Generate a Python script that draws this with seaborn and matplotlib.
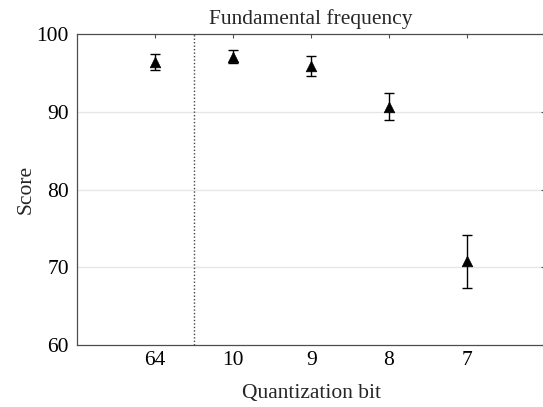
import matplotlib
matplotlib.use('Agg')
import matplotlib.pyplot as plt
import seaborn as sns
import pandas as pd

# valores
bits = ['64', '10', '9', '8', '7']
score = [96.4, 97.1, 95.9, 90.65, 70.8]
erro = [1.05, 0.85, 1.3, 1.7, 3.4]

sns.set_theme(style='white')
plt.rcParams['font.family'] = ['Liberation Serif', 'DejaVu Serif']
plt.rcParams['mathtext.fontset'] = 'stix'

df = pd.DataFrame({'bit': bits, 'score': score, 'erro': erro})
df['pos'] = range(1, len(bits) + 1)

fig = plt.figure(figsize=(5.43, 4.07), dpi=100)
ax = fig.add_axes([0.1425, 0.152, 0.861, 0.7645])

# grade horizontal
for y in [70, 80, 90]:
    ax.axhline(y, color='#e6e6e6', lw=1, zorder=0)

# linha pontilhada separando 64 dos outros
ax.axvline(1.5, color='#444444', lw=1, ls=(0, (1, 1.5)), zorder=1)

ax.errorbar(df['pos'], df['score'], yerr=df['erro'], fmt='none',
            ecolor='black', elinewidth=1, capsize=3.5, capthick=1, zorder=2)
sns.scatterplot(data=df, x='pos', y='score', marker='^', s=58,
                color='black', edgecolor='black', linewidth=0.5, ax=ax, zorder=3)

ax.set_xlim(0, 6)
ax.set_ylim(60, 100)
ax.set_xticks(df['pos'])
ax.set_xticklabels(bits)
ax.set_yticks([60, 70, 80, 90, 100])

fs = 15.5
ax.set_title('Fundamental frequency', fontsize=fs, pad=7)
ax.set_xlabel('Quantization bit', fontsize=fs, labelpad=10)
ax.set_ylabel('Score', fontsize=fs, labelpad=1)

for s in ax.spines.values():
    s.set_color('#4d4d4d')
    s.set_linewidth(0.9)
ax.tick_params(direction='in', length=3, width=0.8, color='#4d4d4d',
               labelsize=fs, top=True, right=True, labelcolor='black')
ax.tick_params(axis='y', pad=6)
ax.tick_params(axis='x', pad=4)

fig.savefig('out.png', dpi=100)
